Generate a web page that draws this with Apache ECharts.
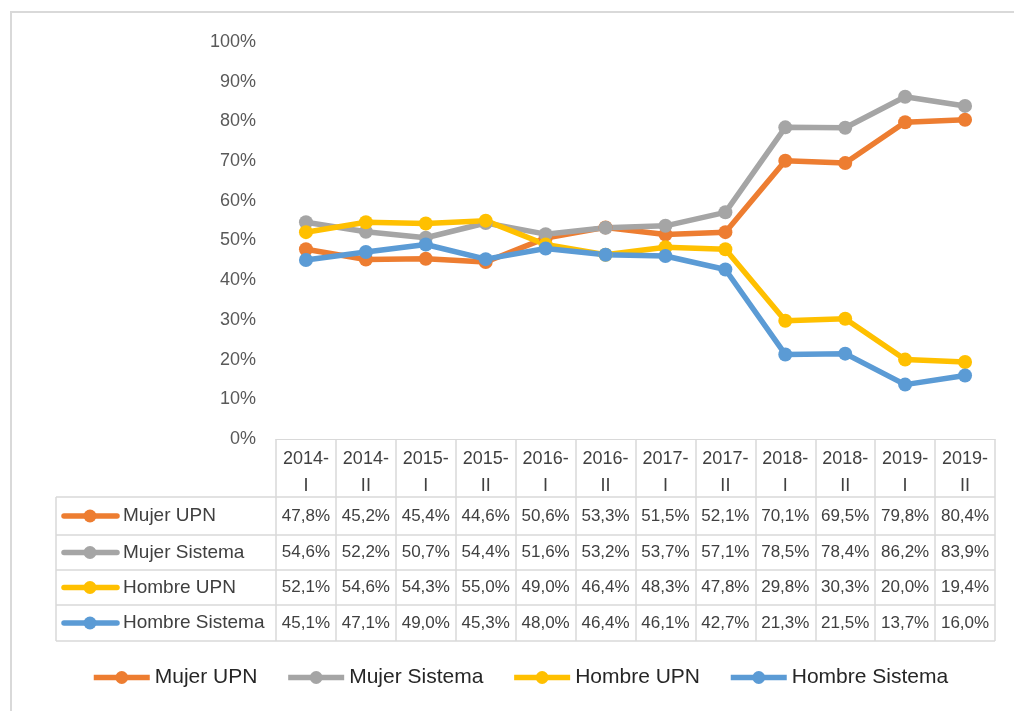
<!DOCTYPE html>
<html>
<head>
<meta charset="utf-8">
<script src="https://cdn.jsdelivr.net/npm/echarts@6/dist/echarts.min.js"></script>
<style>
  html, body { margin: 0; padding: 0; background: #fff; }
  #main { width: 1014px; height: 711px; }
</style>
</head>
<body>
<div id="main"></div>
<script>
var categories = ['2014-\nI', '2014-\nII', '2015-\nI', '2015-\nII', '2016-\nI', '2016-\nII',
  '2017-\nI', '2017-\nII', '2018-\nI', '2018-\nII', '2019-\nI', '2019-\nII'];
var seriesNames = ['Mujer UPN', 'Mujer Sistema', 'Hombre UPN', 'Hombre Sistema'];
var mujerUPN = [47.8, 45.2, 45.4, 44.6, 50.6, 53.3, 51.5, 52.1, 70.1, 69.5, 79.8, 80.4];
var mujerSistema = [54.6, 52.2, 50.7, 54.4, 51.6, 53.2, 53.7, 57.1, 78.5, 78.4, 86.2, 83.9];
var hombreUPN = [52.1, 54.6, 54.3, 55.0, 49.0, 46.4, 48.3, 47.8, 29.8, 30.3, 20.0, 19.4];
var hombreSistema = [45.1, 47.1, 49.0, 45.3, 48.0, 46.4, 46.1, 42.7, 21.3, 21.5, 13.7, 16.0];
var colors = ['#ED7D31', '#A5A5A5', '#FFC000', '#5B9BD5'];

var allValues = [mujerUPN, mujerSistema, hombreUPN, hombreSistema];
var font = 'Liberation Sans, Arial, sans-serif';

// table geometry (pixels)
var axisY = 439;
var rowLines = [497, 535, 570, 605, 641];
var tableLeft = 56, tableRight = 995;

function fmt(v) { return v.toFixed(1).replace('.', ',') + '%'; }

var xAxes = [{
  type: 'category',
  data: categories,
  axisLine: { lineStyle: { color: '#d9d9d9', width: 1 } },
  axisTick: { show: true, length: rowLines[4] - axisY, lineStyle: { color: '#d9d9d9', width: 1.5 } },
  axisLabel: { interval: 0, margin: 7, fontSize: 18, lineHeight: 27, color: '#404040', fontFamily: font }
}];
allValues.forEach(function (vals, i) {
  var center = (rowLines[i] + rowLines[i + 1]) / 2;
  xAxes.push({
    type: 'category',
    data: vals.map(fmt),
    position: 'bottom',
    offset: center - axisY,
    axisLine: { show: false },
    axisTick: { show: false },
    axisLabel: { interval: 0, margin: 0, verticalAlign: 'middle', fontSize: 17, color: '#404040', fontFamily: font }
  });
});

var graphic = [{
  type: 'rect',
  shape: { x: 11, y: 12, width: 1020, height: 720 },
  style: { fill: null, stroke: '#d9d9d9', lineWidth: 2 },
  silent: true
}, {
  type: 'line',
  shape: { x1: tableLeft, y1: rowLines[0], x2: tableLeft, y2: rowLines[4] },
  style: { stroke: '#d9d9d9', lineWidth: 1.5 }
}];
rowLines.forEach(function (y) {
  graphic.push({
    type: 'line',
    shape: { x1: tableLeft, y1: y, x2: tableRight, y2: y },
    style: { stroke: '#d9d9d9', lineWidth: 1.5 }
  });
});
seriesNames.forEach(function (name, i) {
  var cy = (rowLines[i] + rowLines[i + 1]) / 2;
  graphic.push({
    type: 'line',
    shape: { x1: 64, y1: cy, x2: 117, y2: cy },
    style: { stroke: colors[i], lineWidth: 5.5, lineCap: 'round' }
  });
  graphic.push({
    type: 'circle',
    shape: { cx: 90, cy: cy, r: 6.5 },
    style: { fill: colors[i] }
  });
  graphic.push({
    type: 'text',
    x: 123, y: cy,
    style: { text: name, fontSize: 19, fill: '#404040', fontFamily: font, verticalAlign: 'middle', align: 'left' }
  });
});

var chart = echarts.init(document.getElementById('main'));
chart.setOption({
  animation: false,
  backgroundColor: '#fff',
  color: colors,
  grid: { left: 276, right: 19, top: 42, bottom: 711 - axisY, containLabel: false },
  legend: {
    data: seriesNames,
    left: 86,
    top: 662,
    itemWidth: 56,
    itemHeight: 16,
    itemGap: 28,
    lineStyle: { width: 5.5 },
    textStyle: { fontSize: 21, color: '#262626', fontFamily: font }
  },
  xAxis: xAxes,
  yAxis: {
    type: 'value',
    min: 0,
    max: 100,
    interval: 10,
    axisLine: { show: false },
    axisTick: { show: false },
    splitLine: { show: false },
    axisLabel: { formatter: '{value}%', margin: 20, fontSize: 18, color: '#595959', fontFamily: font }
  },
  graphic: graphic,
  series: allValues.map(function (vals, i) {
    return {
      name: seriesNames[i],
      type: 'line',
      data: vals,
      symbol: 'circle',
      symbolSize: 14,
      lineStyle: { width: 5.5 },
      itemStyle: { color: colors[i] }
    };
  })
});
</script>
</body>
</html>
